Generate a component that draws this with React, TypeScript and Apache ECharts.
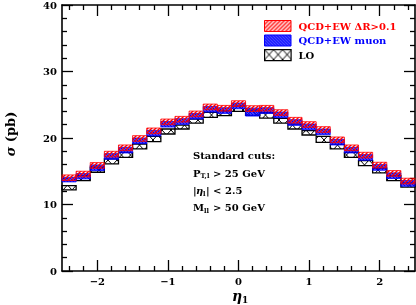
import React, { useEffect, useRef } from 'react';
import * as echarts from 'echarts';

// bin edges in eta_l
const etaEdges = [-2.5, -2.3, -2.1, -1.9, -1.7, -1.5, -1.3, -1.1, -0.9, -0.7, -0.5, -0.3, -0.1, 0.1, 0.3, 0.5, 0.7, 0.9, 1.1, 1.3, 1.5, 1.7, 1.9, 2.1, 2.3, 2.5];

// QCD+EW  dR>0.1 band (red)
const drHigh = [14.45, 15.0, 16.3, 18.0, 18.95, 20.35, 21.5, 22.85, 23.25, 24.05, 25.1, 24.9, 25.6, 24.85, 24.9, 24.25, 23.1, 22.45, 21.7, 20.15, 18.95, 17.85, 16.35, 15.1, 13.95];
const drLow = [13.6, 14.15, 15.45, 17.15, 18.1, 19.5, 20.65, 22.0, 22.4, 23.2, 24.25, 24.05, 24.75, 24.0, 24.05, 23.4, 22.25, 21.6, 20.85, 19.3, 18.1, 17.0, 15.5, 14.25, 13.1];

// QCD+EW muon band (blue)
const muHigh = [14.1, 14.65, 15.95, 17.65, 18.6, 20.0, 21.15, 22.5, 22.9, 23.7, 24.75, 24.55, 25.25, 24.5, 24.55, 23.9, 22.75, 22.1, 21.35, 19.8, 18.6, 17.5, 16.0, 14.75, 13.6];
const muLow = [13.4, 13.85, 15.1, 16.8, 17.75, 19.15, 20.3, 21.65, 22.05, 22.85, 23.9, 23.7, 24.4, 23.3, 23.7, 23.05, 21.9, 21.25, 20.5, 18.95, 17.75, 16.65, 15.15, 13.9, 12.75];

// LO band (black)
const loHigh = [12.85, 14.35, 15.6, 16.85, 17.85, 19.1, 20.25, 21.35, 21.95, 22.85, 23.85, 24.1, 24.8, 24.2, 23.8, 22.95, 22.1, 21.1, 20.25, 19.05, 17.85, 16.6, 15.45, 14.35, 13.25];
const loLow = [12.2, 13.6, 14.85, 16.1, 17.1, 18.35, 19.45, 20.6, 21.35, 22.25, 23.1, 23.35, 24.0, 23.4, 23.0, 22.25, 21.35, 20.45, 19.35, 18.35, 17.1, 15.85, 14.75, 13.6, 12.6];

const xMajorTicks = [-2, -1, 0, 1, 2];
const xMinorTicks = [-2.4, -2.2, -1.8, -1.6, -1.4, -1.2, -0.8, -0.6, -0.4, -0.2, 0.2, 0.4, 0.6, 0.8, 1.2, 1.4, 1.6, 1.8, 2.2, 2.4];

const legendLabels = ['QCD+EW \u0394R>0.1', 'QCD+EW muon', 'LO'];
const cutLines = ['Standard cuts:'];

const FONT = "'DejaVu Serif', serif";
const RED = '#ff0000';
const BLUE = '#0000ff';

function svgTile(w: number, h: number, body: string) {
  return (
    'data:image/svg+xml;charset=utf-8,' +
    encodeURIComponent(`<svg xmlns="http://www.w3.org/2000/svg" width="${w}" height="${h}">${body}</svg>`)
  );
}

const redPattern: any = {
  image: svgTile(4, 4, `<path d="M-1,1 L1,-1 M0,4 L4,0 M3,5 L5,3" stroke="${RED}" stroke-width="1.4"/>`),
  repeat: 'repeat',
  imageWidth: 4,
  imageHeight: 4,
};
const bluePattern: any = {
  image: svgTile(3, 3, `<path d="M-1,2 L1,4 M0,0 L3,3 M2,-1 L4,1" stroke="${BLUE}" stroke-width="1.7"/>`),
  repeat: 'repeat',
  imageWidth: 3,
  imageHeight: 3,
};
const loPattern: any = {
  image: svgTile(9, 10, `<path d="M0,0 L9,10 M9,0 L0,10" stroke="#000" stroke-width="1"/>`),
  repeat: 'repeat',
  imageWidth: 9,
  imageHeight: 10,
};

function bandData(low: number[], high: number[]) {
  return low.map((lo, i) => [etaEdges[i], etaEdges[i + 1], lo, high[i]]);
}

function bandSeries(name: string, low: number[], high: number[], fill: any, stroke: string, lw: number) {
  return {
    type: 'custom',
    name,
    xAxisIndex: 0,
    yAxisIndex: 0,
    encode: { x: [0, 1], y: [2, 3] },
    data: bandData(low, high),
    renderItem: (params: any, api: any) => {
      const p0 = api.coord([api.value(0), api.value(3)]);
      const p1 = api.coord([api.value(1), api.value(2)]);
      return {
        type: 'rect',
        shape: { x: p0[0], y: p0[1], width: p1[0] - p0[0], height: p1[1] - p0[1] },
        style: { fill, stroke, lineWidth: lw },
      };
    },
  };
}

const tickStyle = { color: '#000', width: 1.3 };
const lineStyle = { color: '#000', width: 1.6 };

export default function App() {
  const ref = useRef<HTMLDivElement>(null);
  useEffect(() => {
    if (!ref.current) return;
    const chart = echarts.init(ref.current, undefined, { renderer: 'svg' });
    const baseX = {
      type: 'value',
      min: -2.5,
      max: 2.5,
      splitLine: { show: false },
      axisLine: { show: false, onZero: false },
    };
    const baseY = {
      type: 'value',
      min: 0,
      max: 40,
      interval: 10,
      splitLine: { show: false },
      axisLine: { show: true, onZero: false, lineStyle },
      axisTick: { show: true, inside: true, length: 11, lineStyle: tickStyle },
      minorTick: { show: true, splitNumber: 5, length: 5, lineStyle: tickStyle },
    };
    const fmt = (v: number) => (v < 0 ? '\u2212' + -v : String(v));
    const option: any = {
      animation: false,
      grid: { left: 62, right: 1, top: 4, bottom: 34, containLabel: false },
      xAxis: [
        {
          ...baseX,
          position: 'bottom',
          axisLine: { show: true, onZero: false, lineStyle },
          axisTick: { show: true, inside: true, length: 11, lineStyle: tickStyle, customValues: xMajorTicks },
          axisLabel: {
            show: true,
            customValues: xMajorTicks,
            formatter: fmt,
            margin: 5,
            color: '#000',
            fontFamily: FONT,
            fontWeight: 'bold',
            fontSize: 10,
          },
        },
        {
          ...baseX,
          position: 'bottom',
          axisTick: { show: true, inside: true, length: 5, lineStyle: tickStyle, customValues: xMinorTicks },
          axisLabel: { show: false },
        },
        {
          ...baseX,
          position: 'top',
          axisLine: { show: true, onZero: false, lineStyle },
          axisTick: { show: true, inside: true, length: 11, lineStyle: tickStyle, customValues: xMajorTicks },
          axisLabel: { show: false },
        },
        {
          ...baseX,
          position: 'top',
          axisTick: { show: true, inside: true, length: 5, lineStyle: tickStyle, customValues: xMinorTicks },
          axisLabel: { show: false },
        },
      ],
      yAxis: [
        {
          ...baseY,
          position: 'left',
          axisLabel: { show: true, margin: 5, color: '#000', fontFamily: FONT, fontWeight: 'bold', fontSize: 10 },
        },
        {
          ...baseY,
          position: 'right',
          axisLabel: { show: false },
        },
      ],
      series: [
        bandSeries('LO', loLow, loHigh, loPattern, '#000', 1.3),
        bandSeries('QCD+EW muon', muLow, muHigh, bluePattern, BLUE, 0.8),
        bandSeries('QCD+EW dR', drLow, drHigh, redPattern, RED, 0.8),
      ],
      graphic: [
        // legend
        { type: 'rect', left: 264, top: 20, shape: { x: 0, y: 0, width: 26.5, height: 11 }, style: { fill: redPattern, stroke: RED, lineWidth: 1 } },
        { type: 'rect', left: 264, top: 34.5, shape: { x: 0, y: 0, width: 26.5, height: 11 }, style: { fill: bluePattern, stroke: BLUE, lineWidth: 1 } },
        { type: 'rect', left: 264, top: 49, shape: { x: 0, y: 0, width: 26.5, height: 11 }, style: { fill: loPattern, stroke: '#000', lineWidth: 1.2 } },
        { type: 'text', x: 298.5, y: 26, style: { text: legendLabels[0], fill: RED, font: `bold 10px ${FONT}`, verticalAlign: 'middle' } },
        { type: 'text', x: 298.5, y: 40.5, style: { text: legendLabels[1], fill: BLUE, font: `bold 10px ${FONT}`, verticalAlign: 'middle' } },
        { type: 'text', x: 298.5, y: 55, style: { text: legendLabels[2], fill: '#000', font: `bold 10px ${FONT}`, verticalAlign: 'middle' } },
        // cuts
        { type: 'text', x: 193, y: 155, style: { text: cutLines[0], fill: '#000', font: `bold 10px ${FONT}`, verticalAlign: 'middle' } },
        { type: 'text', x: 193, y: 173, style: { text: 'P', fill: '#000', font: `bold 10px ${FONT}`, verticalAlign: 'middle' } },
        { type: 'text', x: 200.5, y: 176, style: { text: 'T,l', fill: '#000', font: `bold 6.5px ${FONT}`, verticalAlign: 'middle' } },
        { type: 'text', x: 213, y: 173, style: { text: '> 25 GeV', fill: '#000', font: `bold 10px ${FONT}`, verticalAlign: 'middle' } },
        { type: 'text', x: 193, y: 190.5, style: { text: '|', fill: '#000', font: `bold 10px ${FONT}`, verticalAlign: 'middle' } },
        { type: 'text', x: 196, y: 190.5, style: { text: '\u03b7', fill: '#000', font: `italic bold 10px ${FONT}`, verticalAlign: 'middle' } },
        { type: 'text', x: 203, y: 194, style: { text: 'l', fill: '#000', font: `bold 6.5px ${FONT}`, verticalAlign: 'middle' } },
        { type: 'text', x: 206, y: 190.5, style: { text: '| < 2.5', fill: '#000', font: `bold 10px ${FONT}`, verticalAlign: 'middle' } },
        { type: 'text', x: 193, y: 207, style: { text: 'M', fill: '#000', font: `bold 10px ${FONT}`, verticalAlign: 'middle' } },
        { type: 'text', x: 204, y: 210.5, style: { text: 'll', fill: '#000', font: `bold 6.5px ${FONT}`, verticalAlign: 'middle' } },
        { type: 'text', x: 213, y: 207, style: { text: '> 50 GeV', fill: '#000', font: `bold 10px ${FONT}`, verticalAlign: 'middle' } },
        // axis titles
        {
          type: 'text',
          x: 10,
          y: 134,
          rotation: Math.PI / 2,
          style: {
            text: '{s|\u03c3} (pb)',
            fill: '#000',
            font: `bold 13px ${FONT}`,
            align: 'center',
            verticalAlign: 'middle',
            rich: { s: { fontStyle: 'italic', fontWeight: 'bold', fontSize: 13, fontFamily: FONT } },
          },
        },
        { type: 'text', x: 232, y: 296, style: { text: '\u03b7', fill: '#000', font: `italic bold 14px ${FONT}`, verticalAlign: 'middle' } },
        { type: 'text', x: 242, y: 300, style: { text: '1', fill: '#000', font: `bold 9px ${FONT}`, verticalAlign: 'middle' } },
      ],
    };
    chart.setOption(option);
    return () => chart.dispose();
  }, []);
  return <div ref={ref} style={{ position: 'fixed', left: 0, top: 0, width: 416, height: 305 }} />;
}
